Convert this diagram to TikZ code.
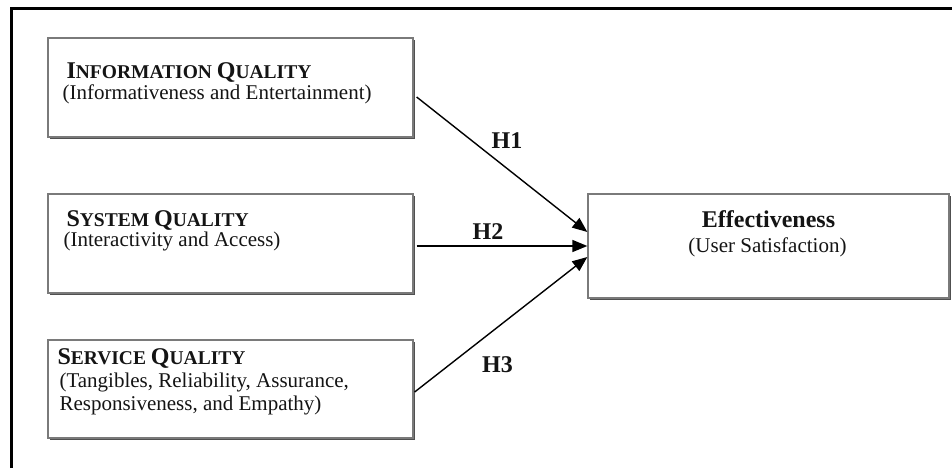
\documentclass[tikz,border=0pt]{standalone}
\usepackage{fontspec}
\setmainfont{Liberation Serif}
\usetikzlibrary{arrows.meta,shadows}

\definecolor{boxline}{HTML}{7A7A7A}
\definecolor{boxshade}{HTML}{505050}
\definecolor{ink}{HTML}{141414}

% fake bold small caps: full-size initial, reduced-size remainder
\newcommand\scBig[1]{{\fontsize{24pt}{26pt}\selectfont #1}}
\newcommand\scSmall[1]{{\fontsize{19.5pt}{26pt}\selectfont #1}}

\tikzset{
  construct/.style={draw=boxline, line width=1.3pt, fill=white, inner sep=0pt,
    drop shadow={shadow xshift=1.6pt, shadow yshift=-1.6pt, fill=boxshade, opacity=1}},
  title/.style={anchor=base west, inner sep=0pt, text=ink,
    font=\fontsize{19.5pt}{26pt}\selectfont\bfseries},
  subtitle/.style={anchor=base west, inner sep=0pt, text=ink, align=left,
    font=\fontsize{21pt}{23pt}\selectfont},
  headline/.style={anchor=base, inner sep=0pt, text=ink,
    font=\fontsize{24pt}{26pt}\selectfont\bfseries},
  caption/.style={anchor=base, inner sep=0pt, text=ink,
    font=\fontsize{21pt}{23pt}\selectfont},
  hyp/.style={anchor=base, inner sep=0pt, text=ink,
    font=\fontsize{24pt}{26pt}\selectfont\bfseries},
  link/.style={draw=black, line width=1.4pt, -{Triangle[length=15pt,width=12pt]}},
}

\begin{document}
\begin{tikzpicture}[x=1pt, y=-1pt]
\useasboundingbox (0,0) rectangle (952,468);

% cropped frame: only the top and left edges remain
\draw[line width=2.8pt, line join=miter] (11.2,468) -- (11.2,8.4) -- (952,8.4);

% constructs
\node[construct, minimum width=365pt, minimum height=99pt] (b1) at (230.5,87.5) {};
\node[construct, minimum width=365pt, minimum height=99pt] (b2) at (230.5,243.5) {};
\node[construct, minimum width=365pt, minimum height=98pt] (b3) at (230.5,389) {};
\node[construct, minimum width=361pt, minimum height=104pt] (eff) at (768.5,246) {};

% construct texts
\node[title] (t1) at ([xshift=19pt, yshift=-41pt]b1.north west)
  {\scBig{I}\scSmall{NFORMATION} \scBig{Q}\scSmall{UALITY}};
\node[subtitle] (s1) at ([xshift=15pt, yshift=-62pt]b1.north west)
  {(Informativeness and Entertainment)};

\node[title] (t2) at ([xshift=19pt, yshift=-33pt]b2.north west)
  {\scBig{S}\scSmall{YSTEM} \scBig{Q}\scSmall{UALITY}};
\node[subtitle] (s2) at ([xshift=16pt, yshift=-53pt]b2.north west)
  {(Interactivity and Access)};

\node[title] (t3) at ([xshift=10pt, yshift=-25pt]b3.north west)
  {\scBig{S}\scSmall{ERVICE} \scBig{Q}\scSmall{UALITY}};
\node[subtitle] (s3) at ([xshift=12pt, yshift=-71pt]b3.north west)
  {(Tangibles, Reliability, Assurance,\\Responsiveness, and Empathy)};

\node[headline] (te) at ([yshift=-34pt]eff.north) {Effectiveness};
\node[caption] (se) at ([xshift=-1pt, yshift=-59pt]eff.north) {(User Satisfaction)};

% hypothesised paths
\draw[link] ([xshift=3pt, yshift=-9.5pt]b1.east) -- ([yshift=14pt]eff.west);
\draw[link, shorten <=3pt] (b2.east |- eff.west) -- (eff.west);
\draw[link] ([xshift=1pt, yshift=-3pt]b3.east) -- ([yshift=-11pt]eff.west);

\node[hyp] (h1) at (507,148) {H1};
\node[hyp] (h2) at (488,239) {H2};
\node[hyp] (h3) at (497.5,372) {H3};
\end{tikzpicture}
\end{document}
